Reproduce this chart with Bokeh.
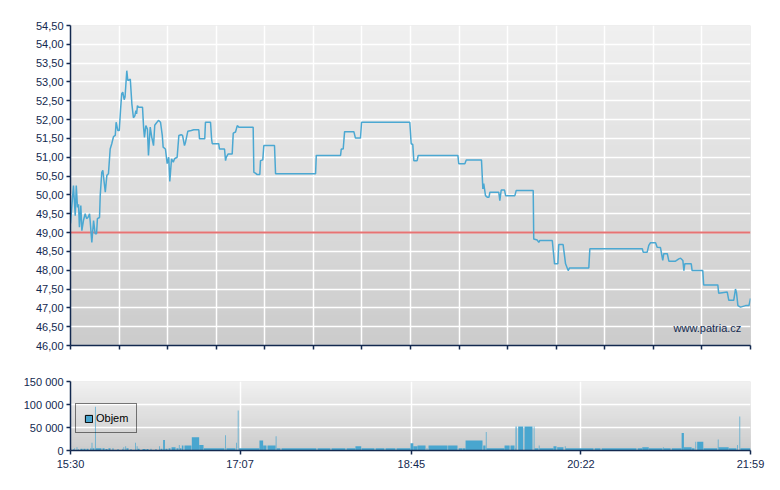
from bokeh.plotting import figure
from bokeh.layouts import column
from bokeh.models import (Range1d, FixedTicker, CustomJSTickFormatter, Span,
                          BoxAnnotation, Label, Legend, LegendItem)
from bokeh.embed import file_html
from bokeh.resources import INLINE

# ---------------- data (minutes after 15:30) ----------------
price_min = [0, 1.7, 2.7, 3.3, 4.0, 4.6, 5.1, 5.9, 6.5, 7.4,
             8.4, 9.2, 10.0, 10.9, 11.3, 12.2, 13.2, 14.1, 14.9, 15.4,
             16.6, 17.0, 17.9, 18.5, 19.9, 20.8, 21.7, 22.7, 23.6, 24.6,
             25.6, 26.1, 27.1, 27.9, 28.6, 29.3, 29.9, 30.7, 31.2, 32.2,
             32.8, 33.5, 34.2, 35.1, 36.0, 36.8, 37.4, 37.8, 38.3, 38.9,
             41.2, 41.8, 42.3, 43.1, 44.0, 44.6, 45.6, 46.5, 47.5, 48.2,
             48.8, 50.3, 51.5, 52.5, 53.0, 54.3, 55.3, 56.2, 56.8, 57.8,
             58.8, 59.5, 61.0, 62.0, 63.3, 64.1, 65.2, 65.8, 67.1, 69.1,
             70.5, 73.4, 73.8, 76.8, 77.2, 80.1, 80.7, 81.1, 84.8, 85.2,
             88.1, 88.7, 89.1, 90.2, 92.5, 93.1, 94.4, 95.4, 96.3, 104.5,
             104.9, 105.8, 106.8, 108.3, 108.7, 110.0, 110.6, 116.7, 117.3, 140.2,
             140.6, 154.5, 154.9, 156.0, 156.8, 162.1, 163.0, 165.9, 166.5, 194.1,
             194.9, 195.8, 196.4, 198.3, 198.9, 221.6, 222.1, 225.6, 226.4, 235.1,
             235.9, 236.4, 237.4, 238.4, 239.4, 239.9, 245.0, 245.6, 246.4, 248.3,
             248.9, 254.2, 255.0, 264.7, 265.0, 267.0, 267.9, 268.5, 275.6, 276.9,
             278.8, 279.3, 281.8, 283.2, 284.7, 285.5, 296.5, 297.1, 327.1, 327.6,
             329.9, 330.8, 331.8, 334.7, 335.6, 337.5, 338.8, 339.4, 341.4, 342.3,
             346.1, 348.0, 349.0, 350.3, 350.9, 351.4, 355.1, 355.6, 361.7, 362.2,
             370.3, 370.8, 375.7, 376.6, 379.4, 380.4, 381.0, 381.8, 383.3, 386.2,
             388.1, 389.0]

price_val = [49.24, 50.25, 49.45, 50.25, 49.67, 49.75, 49.14, 49.72, 49.05, 49.32,
             49.5, 49.37, 49.4, 49.5, 49.28, 48.74, 49.32, 48.97, 48.97, 49.37,
             49.4, 49.98, 50.6, 50.65, 50.07, 50.52, 50.56, 51.22, 51.36, 51.55,
             51.58, 51.93, 51.71, 51.71, 52.24, 52.69, 52.73, 52.53, 52.6, 53.3,
             53.04, 53.05, 53.08, 52.42, 52.05, 52.1, 52.24, 52.15, 52.37, 52.33,
             52.33, 51.8, 51.53, 51.84, 51.75, 51.05, 51.8, 51.53, 51.31, 51.85,
             51.89, 51.98, 51.93, 51.58, 51.27, 51.22, 50.83, 51.0, 50.36, 50.96,
             50.87, 50.96, 51.0, 51.58, 51.6, 51.58, 51.31, 51.4, 51.69, 51.71,
             51.73, 51.73, 51.49, 51.49, 51.93, 51.93, 51.49, 51.36, 51.36, 51.22,
             51.22, 50.91, 51.0, 51.09, 51.09, 51.64, 51.67, 51.84, 51.8, 51.8,
             50.6, 50.58, 50.54, 50.54, 50.91, 50.93, 51.31, 51.31, 50.56, 50.56,
             51.05, 51.05, 51.22, 51.22, 51.68, 51.68, 51.51, 51.51, 51.93, 51.93,
             51.36, 51.34, 50.91, 50.91, 51.05, 51.05, 50.83, 50.83, 50.93, 50.93,
             50.16, 50.3, 49.98, 49.94, 49.94, 50.07, 50.07, 49.85, 50.13, 50.13,
             49.98, 49.98, 50.12, 50.12, 48.83, 48.8, 48.74, 48.79, 48.79, 48.17,
             48.17, 48.68, 48.68, 48.17, 47.99, 48.06, 48.06, 48.57, 48.57, 48.48,
             48.48, 48.66, 48.73, 48.73, 48.61, 48.6, 48.26, 48.44, 48.44, 48.24,
             48.24, 48.3, 48.32, 48.26, 47.99, 48.17, 48.17, 47.99, 47.99, 47.61,
             47.61, 47.39, 47.42, 47.2, 47.2, 47.5, 47.4, 47.06, 47.02, 47.06,
             47.06, 47.25]

ref_price = 49.0

vol_t0 = [0.0, 1.4, 2.2, 3.5, 4.2, 5.7, 7.4, 9.2, 11.3, 12.1,
          12.6, 14.0, 14.5, 18.3, 20.0, 21.7, 24.0, 26.9, 29.7, 30.3,
          31.4, 32.0, 34.3, 37.0, 37.9, 38.4, 41.2, 43.5, 45.8, 48.6,
          50.7, 51.5, 53.0, 54.3, 56.1, 57.8, 60.6, 62.0, 62.5, 63.7,
          65.2, 69.4, 73.6, 76.3, 88.5, 89.2, 94.8, 95.7, 96.3, 108.1,
          110.2, 112.7, 117.4, 117.9, 120.7, 141.3, 149.3, 157.9, 163.0, 166.5,
          174.5, 180.2, 186.5, 194.5, 196.1, 198.5, 203.7, 204.8, 216.0, 222.0,
          224.5, 226.0, 236.1, 237.6, 238.0, 248.3, 251.7, 254.3, 254.6, 256.1,
          259.7, 265.0, 265.5, 267.9, 268.3, 276.3, 278.4, 282.8, 283.2, 299.8,
          303.8, 324.4, 327.1, 330.9, 338.9, 339.3, 343.9, 349.6, 350.9, 355.3,
          357.5, 358.5, 362.1, 370.3, 370.7, 376.5, 381.4, 382.7, 383.2]
vol_t1 = [0.4, 1.8, 2.6, 3.9, 4.6, 6.9, 8.6, 10.3, 12.0, 12.5,
          13.7, 14.4, 17.7, 19.5, 21.2, 22.9, 24.6, 27.5, 30.1, 30.7,
          31.8, 33.2, 34.9, 37.4, 38.3, 39.5, 42.9, 44.6, 46.3, 49.2,
          51.1, 52.6, 54.0, 55.5, 57.2, 60.1, 61.8, 62.4, 63.5, 64.6,
          69.2, 73.6, 76.1, 88.1, 88.9, 94.4, 95.2, 96.1, 108.1, 110.2,
          112.1, 117.3, 117.8, 120.1, 140.7, 148.7, 157.3, 163.0, 166.3, 173.9,
          179.6, 185.9, 194.5, 196.1, 198.5, 203.1, 204.2, 215.7, 221.4, 224.3,
          226.0, 235.7, 237.4, 238.0, 248.3, 251.2, 254.0, 254.6, 255.2, 259.0,
          264.3, 265.4, 267.7, 268.3, 276.3, 278.0, 282.0, 283.2, 299.2, 303.2,
          323.8, 327.1, 330.8, 338.7, 339.3, 343.3, 349.6, 350.9, 355.3, 357.0,
          357.9, 362.0, 370.0, 370.7, 376.5, 381.0, 381.8, 383.1, 389.0]
vol_val = [5000, 3000, 5000, 7000, 3000, 4000, 4000, 4000, 5000, 17000,
           5000, 95000, 5000, 5000, 3000, 5000, 5000, 3000, 4000, 7000,
           9000, 5000, 3000, 17000, 9000, 4000, 3000, 3000, 4000, 3000,
           9000, 4000, 23000, 4000, 5000, 7000, 5000, 12000, 5000, 11000,
           11000, 29000, 12000, 5000, 33000, 5000, 17000, 87000, 5000, 22000,
           11000, 11000, 31000, 5000, 5000, 5000, 5000, 5000, 9000, 5000,
           5000, 5000, 5000, 16000, 9000, 11000, 5000, 11000, 11000, 5000,
           5000, 22000, 11000, 40000, 5000, 11000, 11000, 5000, 52000, 52000,
           52000, 52000, 5000, 11000, 5000, 9000, 7000, 9000, 5000, 5000,
           5000, 5000, 7000, 5000, 7000, 5000, 5000, 38000, 7000, 5000,
           19000, 19000, 5000, 24000, 7000, 5000, 12000, 74000, 5000]

time_tick_min = [0, 97, 195, 292, 389]
time_tick_labels = ["15:30", "17:07", "18:45", "20:22", "21:59"]
price_ticks = [46.0, 46.5, 47.0, 47.5, 48.0, 48.5, 49.0, 49.5, 50.0, 50.5,
               51.0, 51.5, 52.0, 52.5, 53.0, 53.5, 54.0, 54.5]
vol_ticks = [0, 50000, 100000, 150000]
session_len = 389
main_grid_steps = 14

# ---------------- styles ----------------
FONT = "Liberation Sans"
NAVY = "#13294f"
LINE = "#4ba8d2"
BAR = "#49a6cf"
NAN = float("nan")


def gradient(p, c_top, c_bot, lo, hi, n=64):
    for i in range(n):
        f = i / n
        top = None if i == 0 else hi - (hi - lo) * f
        c = tuple(int(round(c_top[k] + (c_bot[k] - c_top[k]) * f)) for k in range(3))
        p.add_layout(BoxAnnotation(top=top, fill_color="#%02x%02x%02x" % c,
                                   fill_alpha=1, line_color=None, level="image"))


def style(p):
    p.outline_line_color = None
    p.background_fill_color = "#dddddd"
    p.border_fill_color = "white"
    for ax in p.axis:
        ax.axis_line_color = NAVY
        ax.axis_line_width = 1.5
        ax.major_tick_line_color = NAVY
        ax.major_tick_line_width = 1.5
        ax.major_tick_out = 4
        ax.major_tick_in = 0
        ax.minor_tick_line_color = None
        ax.major_label_text_font = FONT
        ax.major_label_text_font_size = "11px"
        ax.major_label_text_color = NAVY
        ax.major_label_standoff = 3
    for g in (p.xgrid, p.ygrid):
        g.grid_line_color = "white"
        g.grid_line_width = 1.5


# ---------------- price chart ----------------
p1 = figure(frame_width=680, frame_height=320, output_backend="svg",
            toolbar_location=None, x_range=Range1d(0, session_len),
            y_range=Range1d(46.0, 54.5),
            min_border_left=70, min_border_right=22, min_border_top=25,
            min_border_bottom=16)
style(p1)
gradient(p1, (240, 240, 240), (203, 203, 203), 46.0, 54.5)
p1.xaxis.ticker = FixedTicker(ticks=[session_len * i / main_grid_steps
                                     for i in range(main_grid_steps + 1)])
p1.xaxis.formatter = CustomJSTickFormatter(code="return '';")
p1.yaxis.ticker = FixedTicker(ticks=price_ticks)
p1.yaxis.formatter = CustomJSTickFormatter(code="return tick.toFixed(2).replace('.', ',');")
p1.add_layout(Span(location=ref_price, dimension="width", line_color="#e46464",
                   line_width=2, line_alpha=0.9, level="underlay"))
p1.line(price_min, price_val, line_color=LINE, line_width=1.5)
p1.add_layout(Label(x=603, y=18, x_units="screen", y_units="screen",
                    text="www.patria.cz", text_font=FONT, text_font_size="11px",
                    text_color=NAVY, text_baseline="alphabetic"))

# ---------------- volume chart ----------------
p2 = figure(frame_width=680, frame_height=69, output_backend="svg",
            toolbar_location=None, x_range=Range1d(0, session_len),
            y_range=Range1d(0, 150000),
            min_border_left=70, min_border_right=22, min_border_top=20,
            min_border_bottom=28)
style(p2)
gradient(p2, (240, 240, 240), (203, 203, 203), 0, 150000, n=30)
p2.xaxis.ticker = FixedTicker(ticks=time_tick_min)
p2.xaxis.major_label_overrides = {t: l for t, l in zip(time_tick_min, time_tick_labels)}
p2.yaxis.ticker = FixedTicker(ticks=vol_ticks)
p2.yaxis.formatter = CustomJSTickFormatter(
    code=r"return tick.toFixed(0).replace(/\B(?=(\d{3})+(?!\d))/g, ' ');")
p2.quad(left=vol_t0, right=vol_t1, bottom=0, top=vol_val,
        fill_color=BAR, line_color=None)
# legend-only renderer (NaN data, never visible in the plot area)
leg_r = p2.quad(left=[NAN], right=[NAN], top=[NAN], bottom=[NAN], fill_color=BAR,
                line_color="black", line_width=1)
legend = Legend(items=[LegendItem(label="Objem", renderers=[leg_r])],
                location=(5, 17), padding=8, margin=0, spacing=0,
                glyph_width=9, glyph_height=9, label_height=12,
                label_standoff=3, label_text_font=FONT,
                label_text_font_size="11px", label_text_color="black",
                border_line_color="black", border_line_width=1,
                background_fill_alpha=0)
p2.add_layout(legend)

layout = column(p1, p2, spacing=0)
open("out.html", "w").write(file_html(layout, INLINE))
